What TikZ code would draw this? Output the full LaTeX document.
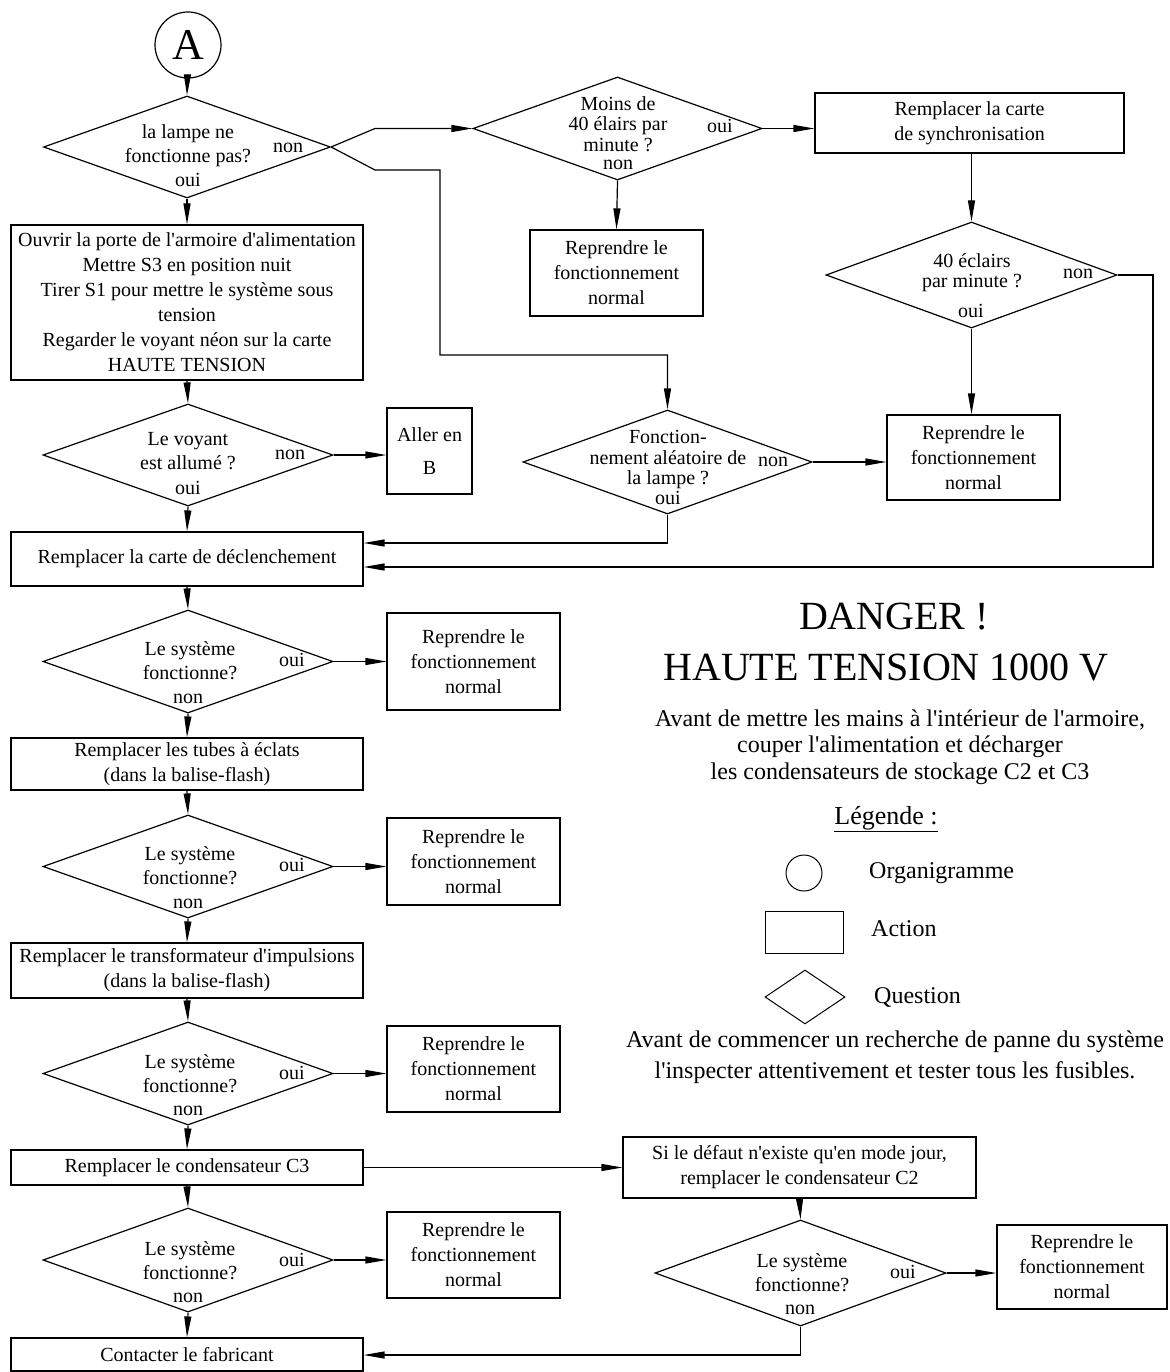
\documentclass[tikz,border=0pt]{standalone}
\usepackage{fontspec}
\setmainfont{Liberation Serif}[Ligatures=TeXOff]
\usetikzlibrary{shapes.geometric,arrows.meta}
\newcommand\fsz{\fontsize{20}{25}\selectfont}
\newcommand\fszq{\fontsize{20}{24}\selectfont}
\newcommand\fszt{\fontsize{20}{20.5}\selectfont}
\newcommand\fszbig{\fontsize{40}{48}\selectfont}
\begin{document}
\begin{tikzpicture}[x=1pt,y=-1pt,
  every node/.style={font=\fsz},
  actbox/.style={draw, line width=1.2pt, rectangle, inner sep=0pt, align=center},
  qdia/.style={draw, line width=1.2pt, diamond, inner sep=0pt},
  qtxt/.style={align=center, inner sep=0pt},
  lbl/.style={inner sep=0pt, text height=13pt, text depth=4pt},
  leglbl/.style={inner sep=0pt, text height=16pt, text depth=5pt, font=\fontsize{24}{28}\selectfont},
  arr/.style={line width=1.2pt, -{Triangle[length=21pt,width=7pt]}},
  ln/.style={line width=1.2pt}
]
\useasboundingbox (0,0) rectangle (1169,1372);

% start
\node[draw, circle, line width=1.2pt, minimum size=66pt, inner sep=0pt, font=\fontsize{44}{48}\selectfont] (A) at (188,45) {A};

% left column
\node[qdia, minimum width=287pt, minimum height=102pt] (d1) at (187,147) {};
\node[qtxt, font=\fszq] (d1t) at (188,146) {la lampe ne\\fonctionne pas?};
\node[lbl] (d1n) at (288,148) {non};
\node[lbl] (d1o) at (188,182) {oui};

\node[actbox, minimum width=352pt, minimum height=155pt] (b1) at (187,302.5) {Ouvrir la porte de l'armoire d'alimentation\\Mettre S3 en position nuit\\Tirer S1 pour mettre le système sous\\tension\\Regarder le voyant néon sur la carte\\HAUTE TENSION};

\node[qdia, minimum width=290pt, minimum height=102pt] (d2) at (188,455) {};
\node[qtxt, font=\fszq] (d2t) at (188,451) {Le voyant\\est allumé ?};
\node[lbl] (d2n) at (290,455) {non};
\node[lbl] (d2o) at (188,490) {oui};

\node[actbox, minimum width=85pt, minimum height=86pt] (bB) at (429.5,451) {Aller en\\[8pt]B};

\node[actbox, minimum width=352pt, minimum height=54pt] (b2) at (187,559) {Remplacer la carte de déclenchement};

\node[qdia, minimum width=290pt, minimum height=103pt] (d3) at (188,661.5) {};
\node[qtxt, font=\fszq] (d3t) at (190,660.5) {Le système\\fonctionne?};
\node[lbl] (d3o) at (292,662) {oui};
\node[lbl] (d3n) at (188,699) {non};
\node[actbox, minimum width=173pt, minimum height=97pt] (r3) at (473.5,661.5) {Reprendre le\\fonctionnement\\normal};

\node[actbox, minimum width=352pt, minimum height=52pt] (b3) at (187,764) {Remplacer les tubes à éclats\\(dans la balise-flash)};

\node[qdia, minimum width=290pt, minimum height=103pt] (d4) at (188,866.5) {};
\node[qtxt, font=\fszq] (d4t) at (190,865.5) {Le système\\fonctionne?};
\node[lbl] (d4o) at (292,867) {oui};
\node[lbl] (d4n) at (188,904) {non};
\node[actbox, minimum width=173pt, minimum height=87pt] (r4) at (473.5,861.5) {Reprendre le\\fonctionnement\\normal};

\node[actbox, minimum width=352pt, minimum height=55pt] (b4) at (187,970.5) {Remplacer le transformateur d'impulsions\\(dans la balise-flash)};

\node[qdia, minimum width=290pt, minimum height=103pt] (d5) at (188,1073.5) {};
\node[qtxt, font=\fszq] (d5t) at (190,1073.5) {Le système\\fonctionne?};
\node[lbl] (d5o) at (292,1075) {oui};
\node[lbl] (d5n) at (188,1111) {non};
\node[actbox, minimum width=173pt, minimum height=86pt] (r5) at (473.5,1069) {Reprendre le\\fonctionnement\\normal};

\node[actbox, minimum width=352pt, minimum height=35pt] (b5) at (187,1167.5) {Remplacer le condensateur C3};

\node[qdia, minimum width=290pt, minimum height=104pt] (d6) at (188,1260) {};
\node[qtxt, font=\fszq] (d6t) at (190,1260.5) {Le système\\fonctionne?};
\node[lbl] (d6o) at (292,1262) {oui};
\node[lbl] (d6n) at (188,1298) {non};
\node[actbox, minimum width=173pt, minimum height=86pt] (r6) at (473.5,1255) {Reprendre le\\fonctionnement\\normal};

\node[actbox, minimum width=352pt, minimum height=33pt] (b6) at (187,1354.5) {Contacter le fabricant};

% bottom right branch
\node[actbox, minimum width=353pt, minimum height=61pt] (bC2) at (799.5,1167.5) {Si le défaut n'existe qu'en mode jour,\\remplacer le condensateur C2};
\node[qdia, minimum width=291pt, minimum height=106pt] (d7) at (800.5,1273) {};
\node[qtxt, font=\fszq] (d7t) at (802,1272.5) {Le système\\fonctionne?};
\node[lbl] (d7o) at (903,1274) {oui};
\node[lbl] (d7n) at (800,1310) {non};
\node[actbox, minimum width=170pt, minimum height=84pt] (r7) at (1082,1267) {Reprendre le\\fonctionnement\\normal};

% top right
\node[qdia, minimum width=289pt, minimum height=103pt] (d8) at (617.5,128.5) {};
\node[qtxt, font=\fszt] (d8t) at (618,124) {Moins de\\40 élairs par\\minute ?};
\node[lbl] (d8n) at (618,165) {non};
\node[lbl] (d8o) at (720,128) {oui};
\node[actbox, minimum width=173pt, minimum height=86pt] (r8) at (616.5,273) {Reprendre le\\fonctionnement\\normal};

\node[actbox, minimum width=309pt, minimum height=60pt] (bS) at (969.5,123) {Remplacer la carte\\de synchronisation};
\node[qdia, minimum width=291pt, minimum height=106pt] (d9) at (971.5,275) {};
\node[qtxt, font=\fszt] (d9t) at (972,272.5) {40 éclairs\\par minute ?};
\node[lbl] (d9n) at (1078,274) {non};
\node[lbl] (d9o) at (971,313) {oui};
\node[actbox, minimum width=173pt, minimum height=85pt] (r9) at (973.5,457.5) {Reprendre le\\fonctionnement\\normal};

\node[qdia, minimum width=289pt, minimum height=104pt] (d10) at (667.5,462) {};
\node[qtxt, font=\fszt] (d10t) at (668,460) {Fonction-\\nement aléatoire de\\la lampe ?};
\node[lbl] (d10n) at (773,462) {non};
\node[lbl] (d10o) at (668,500) {oui};

% notes
\node[font=\fszbig] (dg1) at (894,617) {DANGER !};
\node[font=\fszbig] (dg2) at (886,667) {HAUTE TENSION 1000 V};
\node[align=center, font=\fontsize{24}{26.5}\selectfont, inner sep=0pt] (warn) at (900,747) {Avant de mettre les mains à l'intérieur de l'armoire,\\couper l'alimentation et décharger\\les condensateurs de stockage C2 et C3};
\node[font=\fontsize{26}{30}\selectfont] (leg) at (886,819) {\underline{Légende :}};
\node[draw, circle, line width=1pt, minimum size=36pt, inner sep=0pt] (lgc) at (804,873) {};
\node[leglbl, anchor=west] (lgct) at (869,873) {Organigramme};
\node[actbox, line width=1pt, minimum width=78pt, minimum height=42pt] (lgr) at (804,932) {};
\node[leglbl, anchor=west] (lgrt) at (871,931) {Action};
\node[qdia, line width=1pt, minimum width=80pt, minimum height=54pt] (lgd) at (805,997) {};
\node[leglbl, anchor=west] (lgdt) at (874,998) {Question};
\node[align=center, font=\fontsize{24}{31}\selectfont, inner sep=0pt] (insp) at (895,1057) {Avant de commencer un recherche de panne du système\\l'inspecter attentivement et tester tous les fusibles.};

% bend coordinates
\coordinate (k1) at (375,128.5);
\coordinate (k2) at (375,170);
\coordinate (k3) at (440,170);
\coordinate (k4) at (440,355);
\coordinate (k6) at (1153,567);
\coordinate (k7) at (668,543);
\coordinate (k8) at (800,1355);

% connectors
\draw[arr] (A) -- (d1.north);
\draw[arr] (d1.south) -- (b1.north);
\draw[arr] (b1.south) -- (d2.north);
\draw[arr] (d2.east) -- (d2.east -| bB.west);
\draw[arr] (d2.south) -- (b2.north);
\draw[arr] (b2.south) -- (d3.north);
\draw[arr] (d3.east) -- (d3.east -| r3.west);
\draw[arr] (d3.south) -- (b3.north);
\draw[arr] (b3.south) -- (d4.north);
\draw[arr] (d4.east) -- (d4.east -| r4.west);
\draw[arr] (d4.south) -- (b4.north);
\draw[arr] (b4.south) -- (d5.north);
\draw[arr] (d5.east) -- (d5.east -| r5.west);
\draw[arr] (d5.south) -- (b5.north);
\draw[arr] (b5.south) -- (d6.north);
\draw[arr] (d6.east) -- (d6.east -| r6.west);
\draw[arr] (d6.south) -- (b6.north);

\draw[arr] (b5.east) -- (b5.east -| bC2.west);
\draw[arr] (bC2.south) -- (d7.north);
\draw[arr] (d7.east) -- (d7.east -| r7.west);
\draw[arr] (d7.south) |- (k8) -- (k8 -| b6.east);

\draw[arr] (d1.east) -- (k1) -- (d8.west);
\draw[arr] (d1.east) -- (k2) -- (k3) -- (k4) -| (d10.north);
\draw[arr] (d8.south) -- (r8.north);
\draw[arr] (d8.east) -- (d8.east -| bS.west);
\draw[arr] (bS.south -| d9.north) -- (d9.north);
\draw[arr] (d9.south) -- (d9.south |- r9.north);
\draw[arr] (d10.east) -- (d10.east -| r9.west);
\draw[arr] (d9.east) -| (k6) -- (k6 -| b2.east);
\draw[arr] (d10.south) |- (k7 -| b2.east);
\end{tikzpicture}
\end{document}
